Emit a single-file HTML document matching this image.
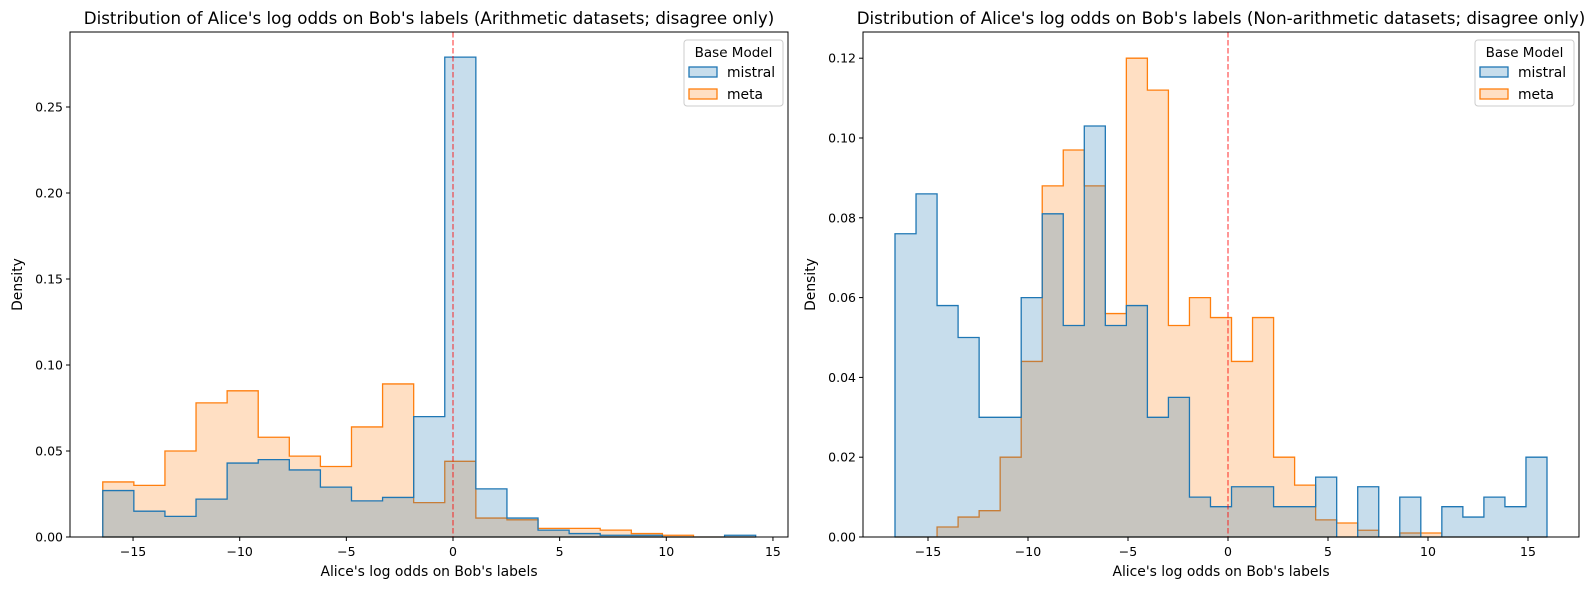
<!DOCTYPE html>
<html><head><meta charset="utf-8"><style>
body{margin:0;background:#fff;}
svg{display:block;font-family:"DejaVu Sans","Liberation Sans",sans-serif;}
</style></head><body>
<svg id="c" width="1593" height="590" xmlns="http://www.w3.org/2000/svg"></svg>
<script>
// Left chart data (arithmetic)
const leftEdgesRange = [-16.42, 14.19];
const leftMistral = [0.027,0.015,0.012,0.022,0.043,0.045,0.039,0.029,0.021,0.023,0.070,0.279,0.028,0.011,0.004,0.002,0.001,0.001,0.0,0.0,0.001];
const leftMeta = [0.032,0.030,0.050,0.078,0.085,0.058,0.047,0.041,0.064,0.089,0.020,0.044,0.011,0.010,0.005,0.005,0.004,0.002,0.001,0.0,0.0];
const leftYTicks = [0,0.05,0.10,0.15,0.20,0.25];
const leftYLabels = ["0.00","0.05","0.10","0.15","0.20","0.25"];
// Right chart data (non-arithmetic)
const rightEdgesRange = [-16.65, 15.95];
const rightMistral = [0.076,0.086,0.058,0.050,0.030,0.030,0.060,0.081,0.053,0.103,0.053,0.058,0.030,0.035,0.010,0.0076,0.0126,0.0126,0.0076,0.0076,0.015,0,0.0126,0,0.010,0,0.0076,0.005,0.010,0.0076,0.020];
const rightMeta = [0,0,0.0025,0.005,0.0066,0.020,0.044,0.088,0.097,0.088,0.056,0.120,0.112,0.053,0.060,0.055,0.044,0.055,0.020,0.013,0.0043,0.0035,0.0017,0,0.001,0.001,0,0,0,0,0];
const rightYTicks = [0,0.02,0.04,0.06,0.08,0.10,0.12];
const rightYLabels = ["0.00","0.02","0.04","0.06","0.08","0.10","0.12"];
const xTicks = [-15,-10,-5,0,5,10,15];
const xTickLabels = ["\u221215","\u221210","\u22125","0","5","10","15"];

const NS="http://www.w3.org/2000/svg";
const svg=document.getElementById('c');
function mk(tag,attrs,parent){const e=document.createElementNS(NS,tag);for(const k in attrs)e.setAttribute(k,attrs[k]);(parent||svg).appendChild(e);return e;}

function chart(cfg){
  const g=mk('g',{});
  
  
  const X=v=>cfg.x0px+(v-cfg.x0v)*cfg.pxPerX;
  const Y=v=>cfg.bottom-v*cfg.pxPerY;
  function series(vals,color,fill,name){
    const n=vals.length,w=(cfg.range[1]-cfg.range[0])/n;
    let d=`M${X(cfg.range[0])},${Y(0)}`;
    vals.forEach((v,i)=>{d+=` L${X(cfg.range[0]+i*w)},${Y(v)} L${X(cfg.range[0]+(i+1)*w)},${Y(v)}`;});
    d+=` L${X(cfg.range[1])},${Y(0)}`;
    const p=mk('path',{d:d+' Z',fill:fill,'fill-opacity':0.25,stroke:color,'stroke-width':1.3},g);
    
    
  }
  series(cfg.meta,'#ff7f0e','#ff7f0e',cfg.name+'-meta-hist');
  series(cfg.mistral,'#1f77b4','#1f77b4',cfg.name+'-mistral-hist');
  const zl=mk('line',{x1:X(0),x2:X(0),y1:cfg.top,y2:cfg.bottom,stroke:'#ff0000','stroke-opacity':0.55,'stroke-width':1.5,'stroke-dasharray':'5.5,2.5'},g);
  
  
  const fr=mk('rect',{x:cfg.left,y:cfg.top,width:cfg.right-cfg.left,height:cfg.bottom-cfg.top,fill:'none',stroke:'#000','stroke-width':1},g);
  
  
  xTicks.forEach((t,i)=>{
    mk('line',{x1:X(t),x2:X(t),y1:cfg.bottom,y2:cfg.bottom+4,stroke:'#000'},g);
    const tx=mk('text',{x:X(t),y:cfg.bottom+19,'text-anchor':'middle','font-size':12.5},g);
    tx.textContent=xTickLabels[i];
    
    
  });
  cfg.yTicks.forEach((t,i)=>{
    mk('line',{x1:cfg.left-4,x2:cfg.left,y1:Y(t),y2:Y(t),stroke:'#000'},g);
    const tx=mk('text',{x:cfg.left-7,y:Y(t)+4.5,'text-anchor':'end','font-size':12.5},g);
    tx.textContent=cfg.yLabels[i];
    
    
  });
  const xl=mk('text',{x:(cfg.left+cfg.right)/2,y:576,'text-anchor':'middle','font-size':13.9},g);
  xl.textContent="Alice's log odds on Bob's labels";
  
  
  const yl=mk('text',{x:0,y:0,'text-anchor':'middle','font-size':13.9,transform:`translate(${cfg.left-48},${(cfg.top+cfg.bottom)/2}) rotate(-90)`},g);
  yl.textContent="Density";
  
  
  const ti=mk('text',{x:(cfg.left+cfg.right)/2,y:24,'text-anchor':'middle','font-size':16.7},g);
  ti.textContent=cfg.title;
  
  
  // legend
  const lg=mk('g',{},g);
  
  
  const lx=cfg.right-104;
  mk('rect',{x:lx,y:cfg.top+8,width:99,height:66,rx:3,fill:'#fff','fill-opacity':0.8,stroke:'#ccc'},lg);
  const lt=mk('text',{x:lx+49.5,y:cfg.top+25,'text-anchor':'middle','font-size':13.5},lg);
  lt.textContent='Base Model';
  
  
  [['mistral','#1f77b4',cfg.top+35],['meta','#ff7f0e',cfg.top+57]].forEach(([n,c,yy])=>{
    mk('rect',{x:lx+5,y:yy,width:28,height:10,fill:c,'fill-opacity':0.25,stroke:c,'stroke-width':1.3},lg);
    const t=mk('text',{x:lx+43,y:yy+10,'font-size':13.9},lg);
    t.textContent=n;
    
    
  });
}
chart({name:'left-chart',left:70,right:788,top:32,bottom:537,x0px:453,x0v:0,pxPerX:21.33,pxPerY:1720,
  range:leftEdgesRange,mistral:leftMistral,meta:leftMeta,yTicks:leftYTicks,yLabels:leftYLabels,
  title:"Distribution of Alice's log odds on Bob's labels (Arithmetic datasets; disagree only)"});
chart({name:'right-chart',left:863,right:1579,top:32,bottom:537,x0px:1228,x0v:0,pxPerX:20,pxPerY:3990,
  range:rightEdgesRange,mistral:rightMistral,meta:rightMeta,yTicks:rightYTicks,yLabels:rightYLabels,
  title:"Distribution of Alice's log odds on Bob's labels (Non-arithmetic datasets; disagree only)"});
</script>
</body></html>
